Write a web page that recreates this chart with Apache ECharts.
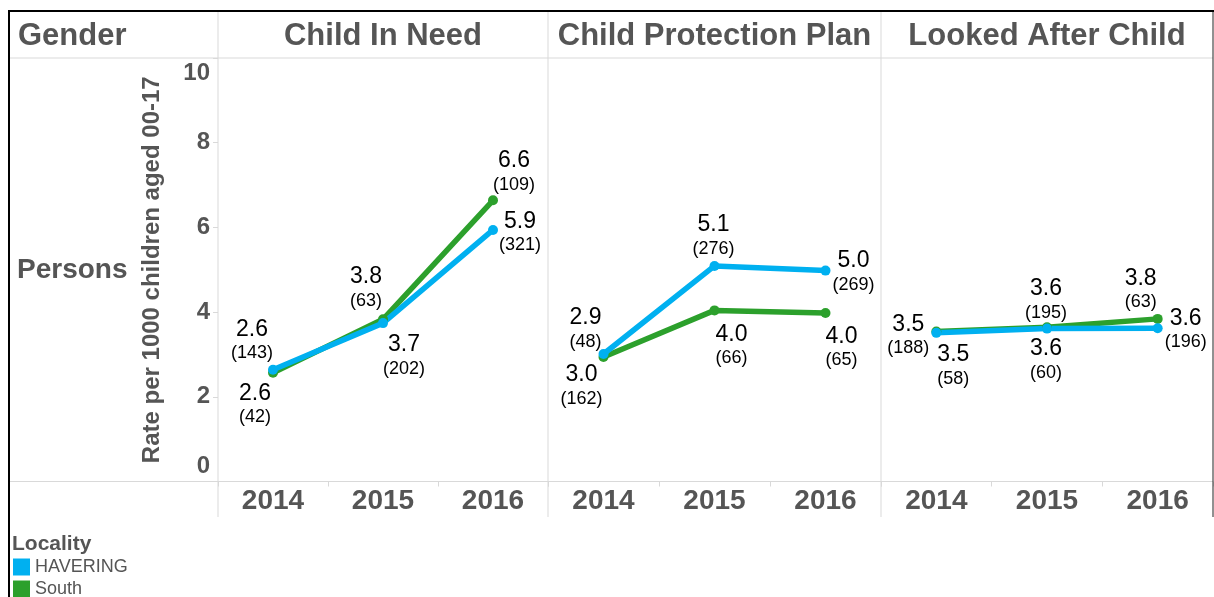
<!DOCTYPE html>
<html>
<head>
<meta charset="utf-8">
<script src="https://cdn.jsdelivr.net/npm/echarts@6/dist/echarts.min.js"></script>
<style>
html, body { margin: 0; padding: 0; background: #fff; }
#main { width: 1214px; height: 597px; }
</style>
</head>
<body>
<div id="main"></div>
<script>
var years = ['2014', '2015', '2016'];
var panels = ['Child In Need', 'Child Protection Plan', 'Looked After Child'];
var localities = ['HAVERING', 'South'];

// rate per 1000 children, one row per panel
var haveringRate = [[2.64, 3.74, 5.94], [3.01, 5.09, 4.98], [3.51, 3.61, 3.62]];
var southRate = [[2.57, 3.83, 6.64], [2.94, 4.04, 3.98], [3.54, 3.64, 3.84]];
// number of children
var haveringCount = [[143, 202, 321], [162, 276, 269], [188, 195, 196]];
var southCount = [[42, 63, 109], [48, 66, 65], [58, 60, 63]];

var yMin = 0, yMax = 10, yStep = 2;

var colors = { HAVERING: '#00b0f0', South: '#2ca02c' };
var grey = '#555';
var lineGrey = '#d9d9d9';

// where each two-line label sits relative to its point (tableau placement)
var haveringLabelOffset = [
  [[-21, -28.5], [21, 33.5], [27, 3.5]],
  [[-22, 33], [-1, -29], [28, 2.5]],
  [[-28, 3.5], [-1, -28], [28, 2]]
];
var southLabelOffset = [
  [[-18, 32.5], [-17, -30.5], [21, -27.5]],
  [[-18, -27], [17, 36], [16, 35.5]],
  [[17, 35], [-1, 33.5], [-17, -28.5]]
];

var panelLeft = [218, 548, 881];
var panelRight = [548, 881, 1213];
var plotTop = 58, plotBottom = 481.5;

var grids = [], xAxes = [], yAxes = [], series = [];

panels.forEach(function (p, i) {
  grids.push({
    left: panelLeft[i],
    width: panelRight[i] - panelLeft[i],
    top: plotTop,
    height: plotBottom - plotTop
  });
  xAxes.push({
    type: 'category',
    gridIndex: i,
    data: years,
    boundaryGap: true,
    axisLine: { show: false },
    axisTick: { show: true, interval: 0, length: 5, lineStyle: { color: lineGrey } },
    axisLabel: { fontSize: 28, fontWeight: 'bold', color: grey, margin: 6, fontFamily: 'Liberation Sans, Arial' },
    splitLine: { show: false }
  });
  yAxes.push({
    type: 'value',
    gridIndex: i,
    min: yMin,
    max: yMax,
    interval: yStep,
    axisLine: { show: false },
    axisTick: { show: i === 0, length: 5, lineStyle: { color: lineGrey } },
    splitLine: { show: false },
    axisLabel: {
      show: i === 0,
      margin: 8,
      fontFamily: 'Liberation Sans, Arial',
      formatter: function (v) {
        if (v === yMin) return '{lo|' + v + '}';
        if (v === yMax) return '{hi|' + v + '}';
        return '{n|' + v + '}';
      },
      rich: {
        n: { fontSize: 24, fontWeight: 'bold', color: grey },
        lo: { fontSize: 24, fontWeight: 'bold', color: grey, padding: [0, 0, 31, 0] },
        hi: { fontSize: 24, fontWeight: 'bold', color: grey, padding: [30, 0, 0, 0] }
      }
    },
    name: i === 0 ? 'Rate per 1000 children aged 00-17' : '',
    nameLocation: 'middle',
    nameRotate: 90,
    nameGap: 54,
    nameTextStyle: { fontSize: 24, fontWeight: 'bold', color: grey, fontFamily: 'Liberation Sans, Arial' }
  });

  function makeSeries(name, rates, counts, offsets) {
    return {
      name: name,
      type: 'line',
      xAxisIndex: i,
      yAxisIndex: i,
      color: colors[name],
      lineStyle: { width: 5.5, color: colors[name] },
      itemStyle: { color: colors[name] },
      symbol: 'circle',
      symbolSize: 10,
      showSymbol: true,
      data: rates[i].map(function (v, k) {
        return {
          value: v,
          label: {
            offset: offsets[i][k],
            formatter: '{v|' + v.toFixed(1) + '}\n{c|(' + counts[i][k] + ')}'
          }
        };
      }),
      label: {
        show: true,
        position: 'inside',
        align: 'center',
        verticalAlign: 'middle',
        fontFamily: 'Liberation Sans, Arial',
        rich: {
          v: { fontSize: 23, color: '#000', lineHeight: 24, align: 'center' },
          c: { fontSize: 18, color: '#000', lineHeight: 24, align: 'center' }
        }
      },
      emphasis: { disabled: true },
      animation: false
    };
  }
  // south first so havering sits on top
  series.push(makeSeries('South', southRate, southCount, southLabelOffset));
  series.push(makeSeries('HAVERING', haveringRate, haveringCount, haveringLabelOffset));
});

function hline(x1, x2, y, color, w) {
  return { type: 'line', shape: { x1: x1, y1: y, x2: x2, y2: y }, style: { stroke: color, lineWidth: w }, z: 1 };
}
function vline(x, y1, y2, color, w) {
  return { type: 'line', shape: { x1: x, y1: y1, x2: x, y2: y2 }, style: { stroke: color, lineWidth: w }, z: 1 };
}
function txt(x, y, text, size, bold, align) {
  return {
    type: 'text', x: x, y: y, z: 5,
    style: {
      text: text, fill: grey, fontSize: size, fontWeight: bold ? 'bold' : 'normal',
      fontFamily: 'Liberation Sans, Arial', align: align || 'left', verticalAlign: 'middle'
    }
  };
}

var graphics = [
  hline(9, 1213, plotTop, lineGrey, 1),
  hline(9, 1213, plotBottom, lineGrey, 1),
  vline(218, 11, 517, lineGrey, 1),
  vline(548, 11, 517, lineGrey, 1),
  vline(881, 11, 517, lineGrey, 1),
  vline(1213, 11, 517, '#222', 1),
  hline(9, 1214, 11, '#000', 2),
  vline(9, 10, 597, '#000', 2),
  txt(18, 36, 'Gender', 31, true),
  txt(17, 270, 'Persons', 28, true),
  txt(12, 544, 'Locality', 21, true)
];
panels.forEach(function (p, i) {
  graphics.push(txt((panelLeft[i] + panelRight[i]) / 2, 36, p, 31, true, 'center'));
});

function legendFor(name, top) {
  return {
    data: [name],
    orient: 'vertical',
    left: 13,
    top: top,
    padding: 0,
    itemWidth: 17,
    itemHeight: 17,
    icon: 'rect',
    selectedMode: false,
    textStyle: { fontSize: 18, color: grey, fontFamily: 'Liberation Sans, Arial' }
  };
}

var chart = echarts.init(document.getElementById('main'), null, { renderer: 'canvas' });
chart.setOption({
  backgroundColor: '#fff',
  animation: false,
  grid: grids,
  xAxis: xAxes,
  yAxis: yAxes,
  series: series,
  legend: [legendFor(localities[0], 558), legendFor(localities[1], 580)],
  graphic: graphics
});
</script>
</body>
</html>
